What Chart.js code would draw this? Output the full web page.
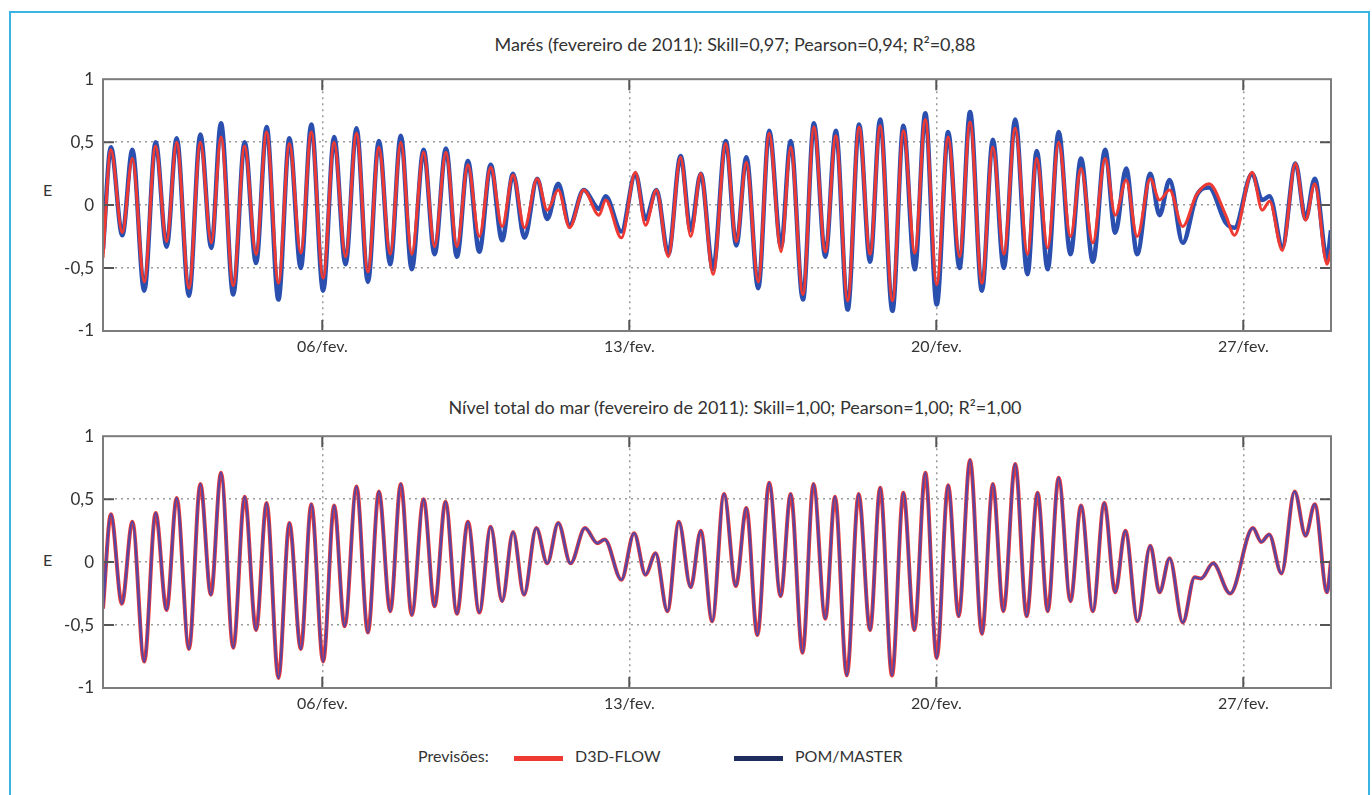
<!DOCTYPE html>
<html lang="pt">
<head>
<meta charset="utf-8">
<title>Marés e nível total do mar - fevereiro de 2011</title>
<script src="https://cdn.jsdelivr.net/npm/chart.js@4.4.1/dist/chart.umd.min.js"></script>
<style>
    body { margin: 0; background: #fff; font-family: Lato, "Open Sans", sans-serif; color: #333; }
    #page { position: relative; width: 1372px; height: 795px; overflow: hidden; }
    #moldura { position: absolute; left: 9px; top: 11px; width: 1357px; height: 820px; border: 2px solid #3ab4e4; }
    .titulo { position: absolute; left: 0; width: 1470px; text-align: center; font-size: 18px; }
    .eixoE { position: absolute; left: 43px; font-size: 16px; }
    canvas { position: absolute; left: 0; }
    #legenda { position: absolute; top: 746px; left: 418px; font-size: 16px; height: 22px; }
    #legenda span { position: absolute; white-space: nowrap; top: 0; }
    #legenda i { position: absolute; top: 10px; width: 49px; height: 5px; }
</style>
</head>
<body>
<div id="page">
    <div id="moldura"></div>
    <div class="titulo" style="top: 33px;">Marés (fevereiro de 2011): Skill=0,97; Pearson=0,94; R²=0,88</div>
    <div class="titulo" style="top: 396px;">Nível total do mar (fevereiro de 2011): Skill=1,00; Pearson=1,00; R²=1,00</div>
    <div class="eixoE" style="top: 180px;">E</div>
    <div class="eixoE" style="top: 550px;">E</div>
    <canvas id="chartMares" width="1372" height="300" style="top: 60px;"></canvas>
    <canvas id="chartNivel" width="1372" height="300" style="top: 417px;"></canvas>
    <div id="legenda">
        <span style="left: 0;">Previsões:</span>
        <i style="left: 96px; background: #ee3a33;"></i>
        <span style="left: 157px;">D3D-FLOW</span>
        <i style="left: 316px; background: #1f2d5e;"></i>
        <span style="left: 377px;">POM/MASTER</span>
    </div>
</div>

<script>
// ========================================
// DADOS (dias de fevereiro de 2011, E em m)
// ========================================

const xTicks = [6, 13, 20, 27];
const xTickLabels = ['06/fev.', '13/fev.', '20/fev.', '27/fev.'];

// Marés - preamares e baixa-mares
const maresTempo = [
    1.00, 1.18, 1.44, 1.67, 1.94, 2.20, 2.45, 2.68, 2.96, 3.22,
    3.47, 3.69, 3.97, 4.23, 4.49, 4.73, 5.00, 5.25, 5.51, 5.75,
    6.02, 6.27, 6.53, 6.78, 7.04, 7.29, 7.55, 7.79, 8.04, 8.31,
    8.56, 8.82, 9.07, 9.32, 9.58, 9.84, 10.10, 10.35, 10.61, 10.90,
    11.13, 11.38, 11.64, 11.96, 12.31, 12.46, 12.82, 13.14, 13.37, 13.62,
    13.89, 14.17, 14.40, 14.63, 14.91, 15.20, 15.44, 15.67, 15.94, 16.19,
    16.46, 16.68, 16.96, 17.21, 17.47, 17.71, 17.98, 18.24, 18.49, 18.72,
    19.00, 19.25, 19.51, 19.75, 20.01, 20.27, 20.53, 20.77, 21.04, 21.29,
    21.54, 21.80, 22.08, 22.29, 22.54, 22.79, 23.06, 23.30, 23.57, 23.85,
    24.08, 24.33, 24.58, 24.88, 25.09, 25.32, 25.62, 25.93, 26.22, 26.60,
    26.80, 27.20, 27.43, 27.60, 27.89, 28.19, 28.42, 28.63, 28.91, 29.00
];
const maresD3D = [
    -0.42, 0.44, -0.22, 0.37, -0.61, 0.47, -0.29, 0.50, -0.66, 0.50,
    -0.30, 0.54, -0.64, 0.47, -0.39, 0.58, -0.62, 0.49, -0.38, 0.58,
    -0.58, 0.50, -0.41, 0.57, -0.53, 0.46, -0.39, 0.50, -0.39, 0.42,
    -0.33, 0.42, -0.33, 0.32, -0.25, 0.30, -0.17, 0.24, -0.18, 0.21,
    -0.04, 0.12, -0.18, 0.12, -0.08, 0.04, -0.26, 0.26, -0.16, 0.12,
    -0.41, 0.38, -0.25, 0.25, -0.55, 0.49, -0.29, 0.34, -0.61, 0.57,
    -0.37, 0.46, -0.71, 0.62, -0.37, 0.55, -0.76, 0.62, -0.39, 0.63,
    -0.76, 0.59, -0.38, 0.68, -0.63, 0.54, -0.41, 0.66, -0.62, 0.46,
    -0.39, 0.61, -0.39, 0.37, -0.34, 0.50, -0.25, 0.29, -0.30, 0.37,
    -0.08, 0.20, -0.25, 0.21, 0.04, 0.12, -0.17, 0.08, 0.17, -0.08,
    -0.24, 0.26, -0.04, 0.03, -0.36, 0.33, -0.12, 0.17, -0.47, -0.35
];
const maresPOM = [
    -0.35, 0.46, -0.24, 0.44, -0.68, 0.50, -0.33, 0.53, -0.72, 0.56,
    -0.34, 0.65, -0.71, 0.50, -0.46, 0.62, -0.75, 0.53, -0.50, 0.64,
    -0.68, 0.54, -0.47, 0.61, -0.61, 0.51, -0.47, 0.55, -0.51, 0.44,
    -0.39, 0.45, -0.41, 0.35, -0.37, 0.32, -0.28, 0.25, -0.26, 0.21,
    -0.11, 0.17, -0.16, 0.12, -0.03, 0.07, -0.21, 0.25, -0.11, 0.12,
    -0.39, 0.39, -0.20, 0.25, -0.51, 0.51, -0.32, 0.38, -0.66, 0.59,
    -0.33, 0.51, -0.75, 0.65, -0.41, 0.59, -0.83, 0.64, -0.45, 0.68,
    -0.84, 0.63, -0.51, 0.73, -0.79, 0.58, -0.50, 0.74, -0.68, 0.52,
    -0.50, 0.68, -0.55, 0.43, -0.51, 0.58, -0.39, 0.37, -0.45, 0.44,
    -0.22, 0.29, -0.39, 0.25, -0.08, 0.20, -0.30, 0.07, 0.14, -0.14,
    -0.18, 0.25, 0.04, 0.07, -0.33, 0.33, -0.11, 0.21, -0.43, -0.20
];

// Nível total do mar - as duas previsões coincidem
const nivelTempo = [
    1.00, 1.18, 1.43, 1.67, 1.94, 2.20, 2.45, 2.68, 2.96, 3.22,
    3.46, 3.69, 3.97, 4.23, 4.49, 4.73, 5.00, 5.25, 5.51, 5.75,
    6.02, 6.27, 6.51, 6.78, 7.04, 7.29, 7.55, 7.79, 8.04, 8.31,
    8.56, 8.81, 9.07, 9.32, 9.58, 9.84, 10.10, 10.35, 10.60, 10.88,
    11.13, 11.38, 11.66, 11.99, 12.27, 12.44, 12.82, 13.11, 13.37, 13.60,
    13.87, 14.13, 14.40, 14.63, 14.89, 15.16, 15.43, 15.67, 15.92, 16.19,
    16.45, 16.68, 16.95, 17.20, 17.47, 17.69, 17.96, 18.23, 18.49, 18.72,
    18.99, 19.25, 19.50, 19.75, 20.01, 20.27, 20.51, 20.77, 21.04, 21.29,
    21.53, 21.80, 22.06, 22.31, 22.54, 22.79, 23.06, 23.30, 23.57, 23.83,
    24.08, 24.31, 24.59, 24.88, 25.09, 25.32, 25.62, 25.89, 26.04, 26.31,
    26.70, 27.22, 27.41, 27.59, 27.87, 28.17, 28.42, 28.63, 28.91, 29.00
];
const nivelD3D = [
    -0.37, 0.38, -0.33, 0.32, -0.79, 0.39, -0.38, 0.51, -0.69, 0.62,
    -0.26, 0.71, -0.68, 0.52, -0.54, 0.47, -0.92, 0.31, -0.69, 0.46,
    -0.79, 0.45, -0.51, 0.60, -0.56, 0.56, -0.39, 0.62, -0.42, 0.50,
    -0.35, 0.48, -0.41, 0.32, -0.40, 0.28, -0.31, 0.24, -0.26, 0.27,
    -0.01, 0.31, -0.01, 0.27, 0.15, 0.18, -0.14, 0.23, -0.10, 0.07,
    -0.39, 0.32, -0.20, 0.25, -0.47, 0.54, -0.19, 0.43, -0.58, 0.63,
    -0.27, 0.54, -0.72, 0.62, -0.45, 0.52, -0.90, 0.54, -0.54, 0.59,
    -0.90, 0.55, -0.54, 0.71, -0.76, 0.61, -0.43, 0.81, -0.57, 0.62,
    -0.39, 0.78, -0.43, 0.55, -0.39, 0.67, -0.31, 0.45, -0.39, 0.47,
    -0.24, 0.25, -0.47, 0.13, -0.24, 0.03, -0.48, -0.12, -0.13, -0.01,
    -0.25, 0.27, 0.16, 0.22, -0.09, 0.56, 0.21, 0.46, -0.24, 0.01
];
const nivelPOM = nivelD3D.slice();

// ========================================
// GRÁFICOS
// ========================================

function toPoints(tempo, valores) {
    return tempo.map((t, i) => ({ x: t, y: valores[i] }));
}

// moldura do gráfico e marcas de escala internas
const framePlugin = {
    id: 'frame',
    afterDraw(chart) {
        const { ctx, chartArea: a, scales } = chart;
        ctx.save();
        ctx.strokeStyle = '#555';
        ctx.lineWidth = 2;
        ctx.beginPath();
        xTicks.forEach(v => {
            const px = scales.x.getPixelForValue(v);
            ctx.moveTo(px, a.bottom); ctx.lineTo(px, a.bottom - 11);
            ctx.moveTo(px, a.top); ctx.lineTo(px, a.top + 11);
        });
        [-0.5, 0, 0.5].forEach(v => {
            const py = scales.y.getPixelForValue(v);
            ctx.moveTo(a.left, py); ctx.lineTo(a.left + 11, py);
            ctx.moveTo(a.right, py); ctx.lineTo(a.right - 11, py);
        });
        ctx.stroke();
        ctx.strokeStyle = '#7c7c7c';
        ctx.strokeRect(a.left, a.top, a.right - a.left, a.bottom - a.top);
        ctx.restore();
    }
};

function makeChart(id, datasets) {
    const ctx = document.getElementById(id).getContext('2d');
    return new Chart(ctx, {
        type: 'line',
        data: { datasets: datasets },
        options: {
            responsive: false,
            animation: false,
            devicePixelRatio: 1,
            layout: { padding: { left: 0, right: 41, top: 16, bottom: 0 } },
            elements: { point: { radius: 0 } },
            plugins: { legend: { display: false }, tooltip: { enabled: false } },
            scales: {
                x: {
                    type: 'linear',
                    min: 1,
                    max: 29,
                    afterBuildTicks: axis => { axis.ticks = xTicks.map(v => ({ value: v })); },
                    afterFit: scale => { scale.height = 29; },
                    ticks: {
                        padding: 6,
                        maxRotation: 0,
                        color: '#333',
                        font: { family: 'Lato', size: 16 },
                        callback: value => xTickLabels[xTicks.indexOf(value)]
                    },
                    grid: { color: '#9a9a9a', lineWidth: 1.5, drawTicks: false },
                    border: { display: false, dash: [2, 4] }
                },
                y: {
                    min: -1,
                    max: 1,
                    afterFit: scale => { scale.width = 103; },
                    ticks: {
                        stepSize: 0.5,
                        padding: 9,
                        color: '#333',
                        font: { family: 'Lato', size: 17 },
                        callback: value => String(value).replace('.', ',')
                    },
                    grid: {
                        drawTicks: false,
                        lineWidth: 1.5,
                        color: c => (Math.abs(c.tick.value) === 1 ? 'rgba(0,0,0,0)' : '#9a9a9a')
                    },
                    border: { display: false, dash: [2, 4] }
                }
            }
        },
        plugins: [framePlugin]
    });
}

makeChart('chartMares', [
    {
        label: 'D3D-FLOW',
        data: toPoints(maresTempo, maresD3D),
        borderColor: '#ee3a33',
        borderWidth: 3,
        cubicInterpolationMode: 'monotone',
        order: 1
    },
    {
        label: 'POM/MASTER',
        data: toPoints(maresTempo, maresPOM),
        borderColor: '#2b4fae',
        borderWidth: 4.5,
        cubicInterpolationMode: 'monotone',
        order: 2
    }
]);

makeChart('chartNivel', [
    {
        label: 'POM/MASTER',
        data: toPoints(nivelTempo, nivelPOM),
        borderColor: 'rgba(52, 72, 190, 0.8)',
        borderWidth: 2.5,
        cubicInterpolationMode: 'monotone',
        order: 1
    },
    {
        label: 'D3D-FLOW',
        data: toPoints(nivelTempo, nivelD3D),
        borderColor: '#ee3a33',
        borderWidth: 4,
        cubicInterpolationMode: 'monotone',
        order: 2
    }
]);
</script>
</body>
</html>
